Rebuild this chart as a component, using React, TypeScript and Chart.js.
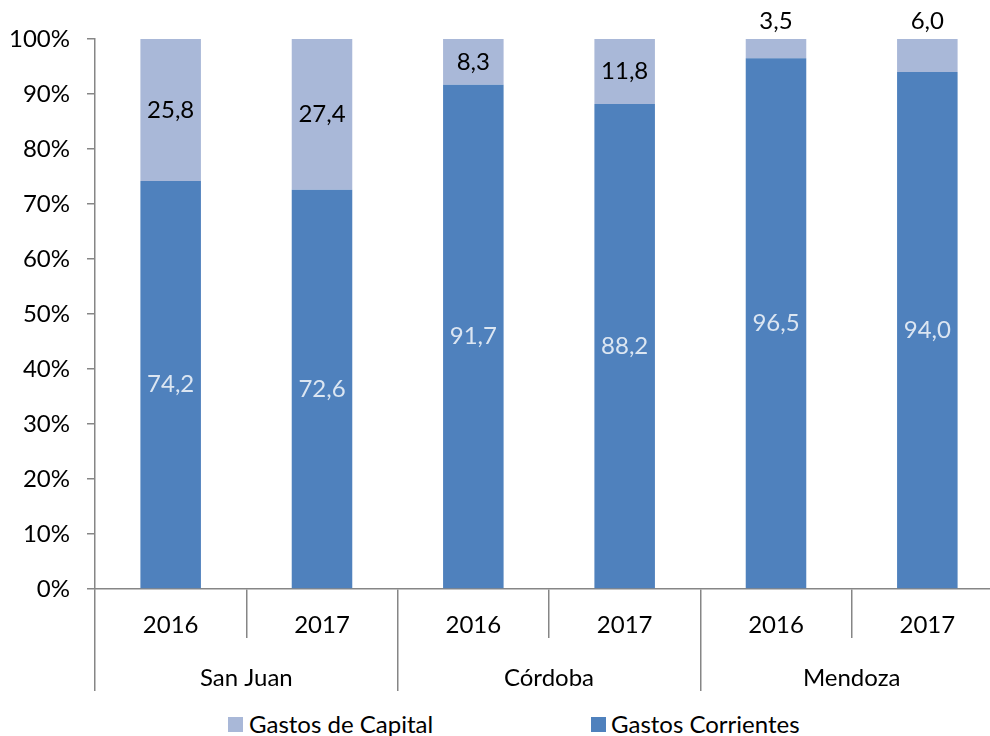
import React, { useEffect, useRef } from "react";
import { Chart, registerables } from "chart.js";

Chart.register(...registerables);

const years = ["2016", "2017", "2016", "2017", "2016", "2017"];
const provinces = ["San Juan", "Córdoba", "Mendoza"];
const gastosCorrientes = [74.2, 72.6, 91.7, 88.2, 96.5, 94.0];
const gastosCapital = [25.8, 27.4, 8.3, 11.8, 3.5, 6.0];
const yTicks = [0, 10, 20, 30, 40, 50, 60, 70, 80, 90, 100];

const COLOR_CORR = "#4F81BD";
const COLOR_CAP = "#A9B8D8";
const AXIS = "#868686";
const FONT = "Lato";
const FS = 24;

const labelPlugin = {
  id: "segLabels",
  afterDatasetsDraw(chart: any) {
    const ctx = chart.ctx;
    ctx.save();
    ctx.font = `${FS}px ${FONT}`;
    ctx.textAlign = "center";
    ctx.textBaseline = "middle";
    chart.data.datasets.forEach((ds: any, di: number) => {
      const meta = chart.getDatasetMeta(di);
      meta.data.forEach((el: any, i: number) => {
        const v = ds.data[i] as number;
        const txt = v.toFixed(1).replace(".", ",");
        const h = el.base - el.y;
        let y = (el.y + el.base) / 2;
        if (di === 1 && h < 40) y = el.y - 18;
        ctx.fillStyle = di === 0 ? "#DCE6F2" : "#000000";
        ctx.fillText(txt, el.x, y);
      });
    });
    ctx.restore();
  },
};

export default function App() {
  const ref = useRef<HTMLCanvasElement | null>(null);
  useEffect(() => {
    if (!ref.current) return;
    const chart = new Chart(ref.current, {
      type: "bar",
      data: {
        labels: years,
        datasets: [
          {
            label: "Gastos Corrientes",
            data: gastosCorrientes,
            backgroundColor: COLOR_CORR,
            barPercentage: 0.4,
            categoryPercentage: 1,
          },
          {
            label: "Gastos de Capital",
            data: gastosCapital,
            backgroundColor: COLOR_CAP,
            barPercentage: 0.4,
            categoryPercentage: 1,
          },
        ],
      },
      options: {
        animation: false,
        responsive: false,
        layout: { padding: { top: 39, right: 7, left: 0, bottom: 0 } },
        plugins: { legend: { display: false }, tooltip: { enabled: false } },
        scales: {
          x: {
            stacked: true,
            offset: true,
            grid: {
              offset: true,
              drawOnChartArea: false,
              drawTicks: true,
              tickLength: 49,
              color: AXIS,
              lineWidth: 1.5,
            },
            border: { color: AXIS, width: 1.5 },
            ticks: { color: "#000", font: { family: FONT, size: FS }, padding: -27, maxRotation: 0 },
            afterFit: (s: any) => {
              s.height = 49;
            },
          },
          x2: {
            type: "category",
            labels: provinces,
            position: "bottom",
            offset: true,
            grid: {
              offset: true,
              drawOnChartArea: false,
              drawTicks: true,
              tickLength: 53,
              color: AXIS,
              lineWidth: 1.5,
            },
            border: { display: false },
            ticks: { color: "#000", font: { family: FONT, size: FS }, padding: -27, maxRotation: 0 },
            afterFit: (s: any) => {
              s.height = 70;
            },
          },
          y: {
            stacked: true,
            min: 0,
            max: 100,
            afterBuildTicks: (s: any) => {
              s.ticks = yTicks.map((v) => ({ value: v }));
            },
            grid: {
              drawOnChartArea: false,
              drawTicks: true,
              tickLength: 8,
              color: AXIS,
              lineWidth: 1.5,
            },
            border: { color: AXIS, width: 1.5 },
            ticks: {
              color: "#000",
              font: { family: FONT, size: FS },
              padding: 17,
              callback: (v: any) => `${v}%`,
            },
            afterFit: (s: any) => {
              s.width = 95;
            },
          },
        },
      },
      plugins: [labelPlugin],
    });
    return () => chart.destroy();
  }, []);

  const legendText: React.CSSProperties = {
    position: "absolute",
    top: 709,
    fontFamily: FONT,
    fontSize: FS,
    color: "#000",
    lineHeight: "30px",
    whiteSpace: "nowrap",
  };
  const box = (left: number, color: string): React.CSSProperties => ({
    position: "absolute",
    left,
    top: 717,
    width: 15,
    height: 15,
    background: color,
  });

  return (
    <div
      style={{
        position: "fixed",
        left: 0,
        top: 0,
        width: 990,
        height: 736,
        overflow: "hidden",
        background: "#fff",
      }}
    >
      <canvas ref={ref} width={1010} height={708} style={{ position: "absolute", left: 0, top: 0 }} />
      <div style={box(228, COLOR_CAP)} />
      <div style={{ ...legendText, left: 249 }}>Gastos de Capital</div>
      <div style={box(591, COLOR_CORR)} />
      <div style={{ ...legendText, left: 611 }}>Gastos Corrientes</div>
    </div>
  );
}
